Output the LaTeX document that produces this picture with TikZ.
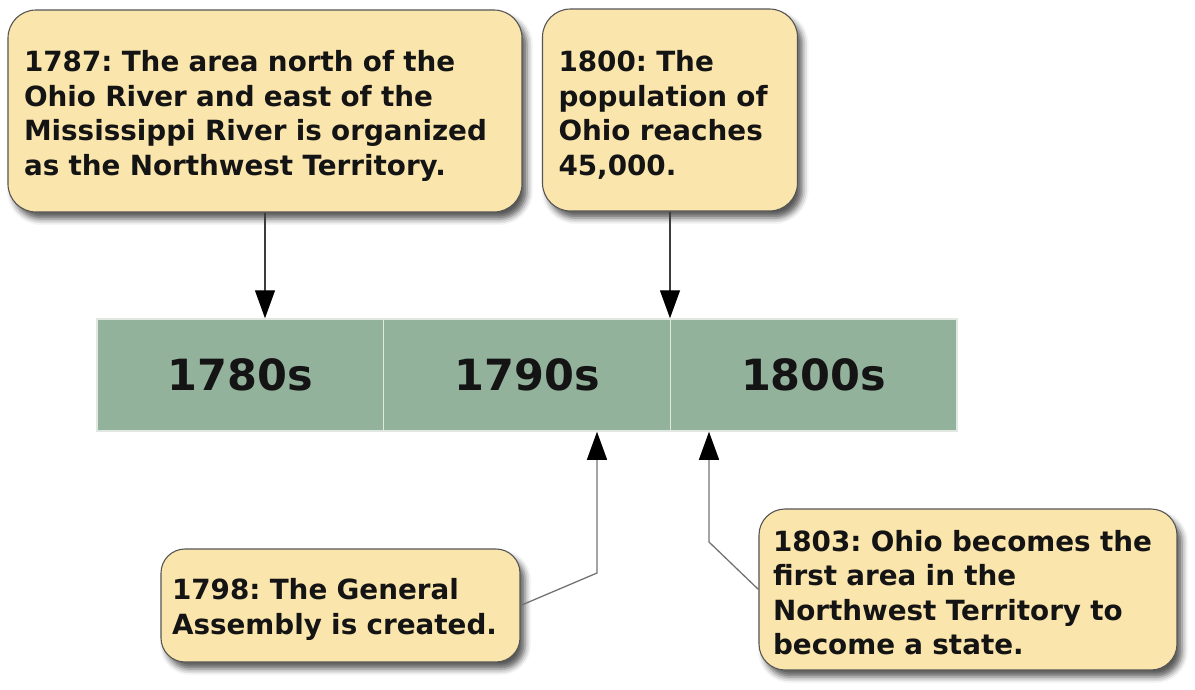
\documentclass[tikz,border=0pt]{standalone}
\usepackage{fontspec}
\setmainfont{DejaVu Sans}
\usetikzlibrary{arrows.meta,shadows.blur}
\definecolor{boxfill}{RGB}{250,229,172}
\definecolor{boxline}{RGB}{85,85,85}
\definecolor{barfill}{RGB}{147,178,155}
\definecolor{sepline}{RGB}{225,232,226}
\definecolor{connline}{RGB}{60,60,60}
\definecolor{txt}{RGB}{20,20,20}
\tikzset{
  note/.style={rectangle, rounded corners=28pt, draw=boxline, line width=1.1pt,
    fill=boxfill, inner sep=0pt,
    blur shadow={shadow xshift=5pt, shadow yshift=-7pt, shadow blur radius=6pt, shadow opacity=65}},
  notetext/.style={inner sep=0pt, align=left, text=txt,
    font=\frenchspacing\bfseries\fontsize{27.8pt}{34.5pt}\selectfont},
  cell/.style={rectangle, fill=barfill, draw=sepline, line width=1.5pt,
    minimum width=286.67pt, minimum height=112pt, inner sep=0pt, text=txt,
    font=\bfseries\fontsize{43pt}{50pt}\selectfont},
  conn/.style={draw=connline, line width=1.3pt, -{Triangle[length=28pt,width=20pt,color=black]}}
}
\begin{document}
\begin{tikzpicture}[x=1pt,y=-1pt]
\useasboundingbox (0,0) rectangle (1195,689);
% timeline
\node[cell] (c1) at (240.33,375) {1780s};
\node[cell] (c2) at (527,375) {1790s};
\node[cell] (c3) at (813.67,375) {1800s};
% notes
\node[note, minimum width=514pt, minimum height=202pt] (b1) at (265,111) {};
\node[notetext, text width=482pt] (t1) at ([yshift=-5pt]b1.center)
  {1787: The area north of the\\Ohio River and east of the\\Mississippi River is organized\\as the Northwest Territory.};
\node[note, minimum width=255pt, minimum height=202pt] (b2) at (670,110) {};
\node[notetext, text width=223pt] (t2) at ([yshift=-5pt]b2.center)
  {1800: The\\population of\\Ohio reaches\\45,000.};
\node[note, rounded corners=24pt, minimum width=359pt, minimum height=113pt] (b3) at (340.5,605.5) {};
\node[notetext, text width=337pt] (t3) at ([yshift=-4pt]b3.center)
  {1798: The General\\Assembly is created.};
\node[note, rounded corners=26pt, minimum width=418pt, minimum height=161pt] (b4) at (968,589.5) {};
\node[notetext, text width=390pt] (t4) at ([yshift=-3pt]b4.center)
  {1803: Ohio becomes the\\first area in the\\Northwest Territory to\\become a state.};
% connectors
\coordinate (k1) at (265,0);
\coordinate (k2) at (670,0);
\coordinate (k3) at (597,573);
\coordinate (k4) at (709,542);
\draw[conn] (b1.south -| k1) -- (c1.north -| k1);
\draw[conn] (b2.south -| k2) -- (c2.north -| k2);
\draw[conn, draw=black!55] (b3.east) -- (k3) -- (c2.south -| k3);
\draw[conn, draw=black!55] (b4.west) -- (k4) -- (c3.south -| k4);
\end{tikzpicture}
\end{document}
